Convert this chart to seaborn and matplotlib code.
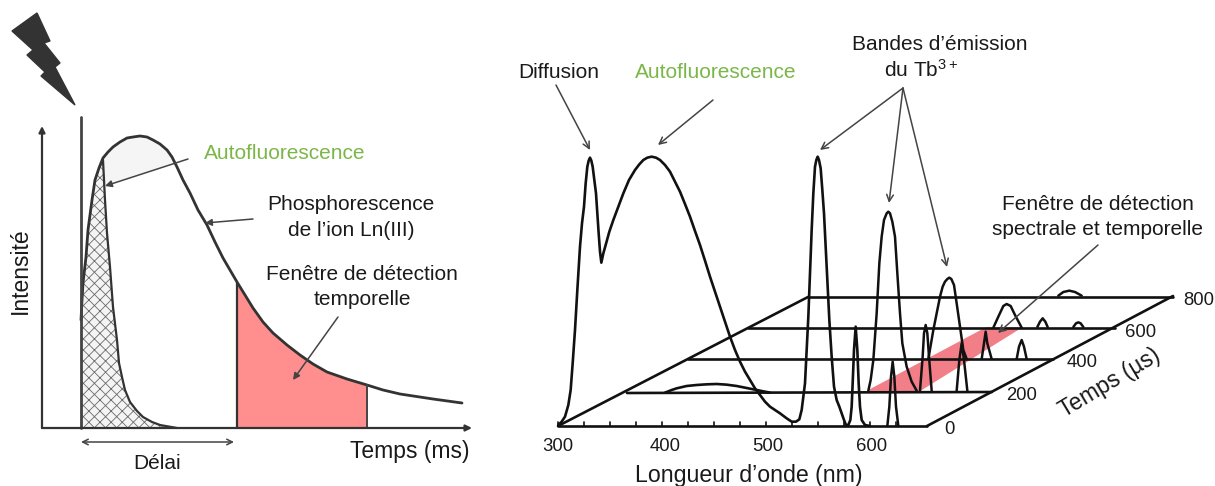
import matplotlib
matplotlib.use("Agg")
import matplotlib.pyplot as plt
import numpy as np
import seaborn as sns

sns.set_theme(style="white")
plt.rcParams['font.family'] = ['Liberation Sans', 'DejaVu Sans']
plt.rcParams['mathtext.fontset'] = 'custom'
plt.rcParams['mathtext.rm'] = 'Liberation Sans'
plt.rcParams['mathtext.default'] = 'rm'
plt.rcParams['hatch.linewidth'] = 0.6

# ---- values (figure pixels) ----
decay_x = [81, 82, 83, 86, 88, 92, 95, 99, 103, 108, 113, 120, 127, 133, 140, 147, 153, 160, 167, 172, 177, 183, 190, 198, 207, 215, 223, 230, 237, 245, 253, 263, 273, 287, 300, 313, 327, 347, 367, 383, 400, 433, 462]
decay_y = [320, 300, 283, 257, 230, 200, 180, 168, 158, 152, 147, 142, 138, 137, 136, 137, 140, 144, 150, 157, 167, 180, 193, 210, 225, 242, 258, 270, 282, 295, 308, 322, 333, 345, 355, 364, 372, 379, 385, 390, 394, 399, 403]
auto_fall_x = [103, 105, 107, 110, 113, 117, 119, 122, 125, 130, 137, 143, 152, 160, 177]
auto_fall_y = [160, 200, 233, 267, 307, 340, 363, 377, 390, 402, 411, 417, 422, 425, 428]
shade_x = [103, 108, 113, 120, 127, 133, 140, 147, 153, 160, 167, 172, 175]
shade_top = [158, 152, 147, 142, 138, 137, 136, 137, 140, 144, 150, 157, 163]
shade_low = [186, 184, 182, 180, 178, 176, 173, 171, 169, 167, 165, 164, 163]
bolt_x = [12, 37, 50, 44, 60, 55, 75, 41, 45, 27, 33, 12]
bolt_y = [31, 13, 41, 43, 63, 67, 105, 76, 72, 55, 50, 31]

# right panel curves (crop units)
spec_zx = [55, 65, 75, 85, 92, 98, 105, 112, 120, 126, 132, 137, 142, 146, 150, 154, 158, 163, 168, 172, 176, 180, 184, 190, 197, 208, 220, 235, 250, 267, 285, 298, 310, 322, 335, 348, 360, 375, 390, 405, 420, 435, 450, 465, 480, 495, 510, 525, 540, 555, 570, 585, 600, 615, 630, 645, 660, 675, 690, 705, 720, 740, 755, 768, 778, 785, 790, 795, 800, 805, 810, 815, 820, 825, 829, 833, 837, 842, 847, 852, 857, 862, 868, 875, 882, 890, 898, 905, 912, 918, 925, 931, 935, 938, 942, 947, 952, 956, 960, 965, 975, 990]
spec_zy = [885, 875, 860, 825, 780, 700, 600, 480, 350, 280, 230, 160, 110, 92, 83, 92, 110, 150, 190, 250, 310, 365, 398, 370, 345, 305, 270, 230, 190, 150, 120, 103, 90, 83, 80, 83, 90, 105, 125, 155, 185, 222, 260, 303, 345, 392, 440, 485, 530, 575, 620, 660, 695, 725, 750, 775, 795, 815, 830, 840, 850, 865, 875, 875, 868, 840, 800, 760, 660, 560, 430, 300, 190, 110, 90, 80, 90, 115, 180, 250, 350, 450, 570, 680, 770, 810, 830, 850, 870, 885, 885, 870, 830, 760, 660, 590, 660, 760, 830, 870, 885, 888]
hump_zx = [375, 395, 410, 440, 470, 500, 530, 560, 590, 615, 640, 665, 690]
hump_zy = [788, 780, 775, 768, 765, 763, 762, 764, 768, 773, 778, 783, 788]
peaks_zx = [
    [322, 328, 333, 338, 343, 348, 355],
    [265, 272, 280, 290, 298, 305, 312, 320, 325, 330, 337, 345, 352, 360, 367, 380, 395, 410],
    [445, 460, 472, 480, 488, 495, 502, 508, 514, 522, 530, 540, 550, 560],
    [420, 428, 432, 437, 442, 447, 455],
    [530, 538, 545, 552, 562],
    [605, 612, 617, 622, 635],
    [710, 717, 725, 732, 740],
    [640, 655, 670, 680, 692, 705, 725],
    [772, 780, 788, 796, 803],
    [880, 888, 895, 902, 910],
    [835, 850, 868, 885, 905],
]
peaks_zy = [
    [738, 680, 590, 545, 590, 680, 738],
    [632, 600, 540, 400, 250, 170, 120, 100, 95, 100, 125, 170, 280, 400, 490, 560, 605, 632],
    [537, 450, 390, 350, 320, 305, 297, 293, 297, 315, 370, 440, 510, 537],
    [632, 530, 460, 435, 460, 530, 632],
    [632, 540, 490, 540, 632],
    [537, 490, 455, 490, 537],
    [537, 500, 480, 500, 537],
    [443, 410, 378, 372, 378, 405, 443],
    [441, 425, 415, 425, 441],
    [441, 430, 427, 430, 441],
    [347, 336, 332, 336, 347],
]

floor_lines_x = [[558, 927], [627, 992], [688, 1053], [748, 1115], [808, 1173], [558, 808], [927, 1173]]
floor_lines_y = [[426, 426], [393, 392], [359, 359], [328, 328], [297, 297], [426, 297], [426, 296]]
wave_ticks = [558, 584, 610, 636, 662, 688, 714, 740, 766, 792, 818, 844, 870, 896]
red_x = [868, 919, 1020, 986]
red_y = [391, 391, 328, 328]

wave_labels = ["300", "400", "500", "600"]
wave_label_x = [558, 665, 768, 872]
time_labels = ["0", "200", "400", "600", "800"]
time_label_x = [949, 1022, 1082, 1141, 1199]
time_label_y = [428, 394, 361, 331, 299]

fig = plt.figure(figsize=(12.15, 4.86), dpi=100, facecolor='white')
ax = fig.add_axes([0, 0, 1, 1])
ax.set_xlim(0, 1215)
ax.set_ylim(486, 0)
ax.axis('off')

def line(x, y, color='#111111', lw=1.9, z=3):
    sns.lineplot(x=x, y=y, sort=False, estimator=None, color=color, linewidth=lw, ax=ax, zorder=z, legend=False)

def crop2(zx, zy):
    return [540 + v / 3 for v in zx], [130 + v / 3 for v in zy]

def crop3(zx, zy):
    return [780 + v / 3 for v in zx], [180 + v / 3 for v in zy]

def label(x, y, s, size=15, color='#1a1a1a', rot=0):
    ax.text(x, y + 1, s, fontsize=size, color=color, rotation=rot, ha='center', va='center', rotation_mode='anchor')

def arrow(x0, y0, x1, y1, style='->', lw=1.1, color='#444444', z=5, ms=12):
    ax.annotate('', xy=(x1, y1), xytext=(x0, y0), zorder=z,
                arrowprops=dict(arrowstyle=style, lw=lw, color=color, shrinkA=0, shrinkB=0, mutation_scale=ms))

# ---- left panel ----
ax.fill(bolt_x, bolt_y, color='#333333', zorder=3)
ax.fill_between(shade_x, shade_top, shade_low, color='#f5f5f5', zorder=1, lw=0)
dx, dy = np.array(decay_x), np.array(decay_y)
win = (dx >= 237) & (dx <= 367)
ax.fill_between(dx[win], dy[win], 428, color='#ff8f8f', zorder=1, lw=0)
rise = dx <= 103
hatch_x = list(dx[rise]) + auto_fall_x + [81]
hatch_y = list(dy[rise]) + auto_fall_y + [428]
ax.fill(hatch_x, hatch_y, facecolor='#f4f4f4', edgecolor='#6a6a6a', hatch='xxx', lw=0, zorder=1)
line(auto_fall_x, auto_fall_y, color='#333333', lw=1.6)
line(decay_x, decay_y, color='#333333', lw=2.0)
line([81, 81], [117, 428], color='#444444', lw=2.0)
line([237, 237], [282, 428], color='#333333', lw=1.6)
line([367, 367], [385, 428], color='#444444', lw=1.4)
arrow(42, 428, 42, 126, style='-|>', lw=1.6, color='#333333', ms=9)
arrow(42, 428, 472, 428, style='-|>', lw=1.6, color='#333333', ms=9)
arrow(188, 159, 105, 186, style='-|>', ms=10)
arrow(253, 219, 205, 223, style='-|>', ms=10)
arrow(338, 317, 293, 380, style='-|>', ms=10)
arrow(81, 442, 234, 442, style='<->', ms=10)
label(285, 152, "Autofluorescence", color='#7ab648')
label(351, 203, "Phosphorescence")
label(351, 229, "de l\u2019ion Ln(III)")
label(362, 273, "Fenêtre de détection")
label(362, 298, "temporelle")
label(157, 462, "Délai")
label(410, 450, "Temps (ms)", size=16.5)
label(20, 270, "Intensité", size=16.5, rot=90)

# ---- right panel ----
ax.fill(red_x, red_y, color='#f27f88', zorder=1)
for lx, ly in zip(floor_lines_x, floor_lines_y):
    line(lx, ly, lw=1.9)
for t in wave_ticks:
    line([t, t], [426, 422], lw=1.2)
line(*crop2(hump_zx, hump_zy))
line(*crop2(spec_zx, spec_zy))
for px, py in zip(peaks_zx, peaks_zy):
    line(*crop3(px, py), lw=1.8)

arrow(556, 85, 590, 150)
arrow(713, 100, 658, 145)
arrow(903, 88, 820, 150)
arrow(903, 88, 889, 203)
arrow(903, 88, 947, 267)
arrow(1098, 245, 998, 333)

label(559, 72, "Diffusion")
label(716, 72, "Autofluorescence", color='#7ab648')
label(940, 44, "Bandes d\u2019émission")
label(921, 69, "du Tb$^{3+}$")
label(1098, 203, "Fenêtre de détection")
label(1098, 228, "spectrale et temporelle")
for s, x in zip(wave_labels, wave_label_x):
    label(x, 445, s, size=13.3)
for s, x, y in zip(time_labels, time_label_x, time_label_y):
    label(x, y, s, size=13.3)
label(1110, 382, "Temps (µs)", size=16.5, rot=31)
label(749, 474, "Longueur d\u2019onde (nm)", size=16.7)

fig.savefig("out.png", dpi=100)
